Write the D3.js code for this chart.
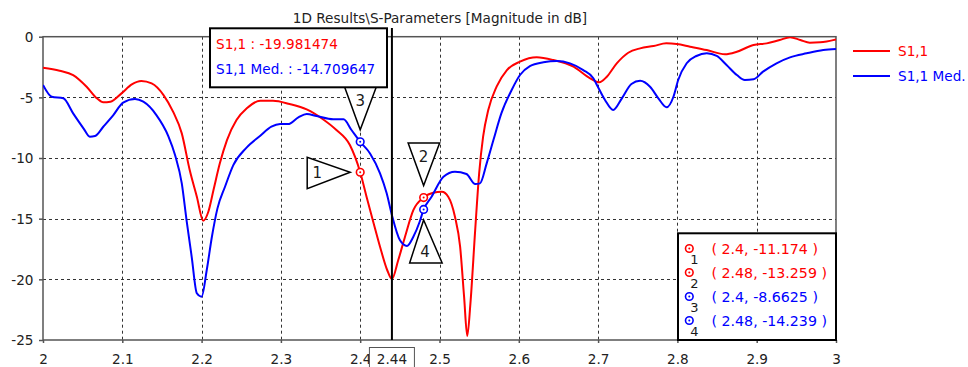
<!DOCTYPE html>
<html>
<head>
<meta charset="utf-8">
<script src="https://cdn.jsdelivr.net/npm/d3@7"></script>
<style>
  html, body { margin: 0; padding: 0; background: #fff; }
  svg { display: block; font-family: "DejaVu Sans", sans-serif; }
</style>
</head>
<body>
<svg id="chart" width="968" height="367"></svg>
<script>
// S1,1 (red) — frequency in GHz, magnitude in dB
const s11Freq = [2.000,2.021,2.038,2.055,2.068,2.076,2.085,2.099,2.112,2.124,2.137,2.152,2.164,2.175,2.185,2.194,2.202,2.2085,2.215,2.223,2.232,2.244,2.257,2.274,2.290,2.311,2.3325,2.353,2.370,2.387,2.400,2.408,2.417,2.425,2.434,2.440,2.448,2.4565,2.467,2.480,2.492,2.503,2.511,2.5195,2.526,2.531,2.535,2.539,2.545,2.550,2.555,2.5615,2.572,2.585,2.6015,2.6226,2.6435,2.669,2.690,2.7015,2.711,2.7235,2.738,2.753,2.770,2.786,2.799,2.816,2.837,2.860,2.875,2.896,2.9126,2.929,2.942,2.955,2.967,2.980,3.000];
const s11Val  = [-2.55,-2.80,-3.16,-4.12,-5.08,-5.41,-5.36,-4.67,-3.93,-3.65,-3.85,-4.81,-6.18,-7.97,-10.99,-13.19,-15.17,-14.43,-12.64,-10.44,-8.52,-6.87,-5.90,-5.28,-5.28,-5.55,-5.99,-6.80,-7.69,-8.93,-11.174,-13.19,-15.39,-17.31,-19.23,-19.981474,-18.41,-16.49,-14.29,-13.259,-12.86,-12.78,-13.19,-14.84,-17.31,-21.43,-24.67,-21.98,-15.94,-11.26,-8.24,-6.04,-4.12,-2.75,-2.06,-1.70,-1.92,-2.47,-3.43,-3.76,-3.30,-2.20,-1.32,-0.96,-0.77,-0.55,-0.60,-0.82,-1.10,-1.45,-1.24,-0.68,-0.55,-0.27,-0.05,-0.27,-0.49,-0.46,-0.22];

// S1,1 Med. (blue)
const medFreq = [2.000,2.011,2.0256,2.038,2.051,2.059,2.0656,2.076,2.0887,2.101,2.116,2.1265,2.143,2.158,2.1665,2.175,2.181,2.1875,2.194,2.200,2.2065,2.213,2.220,2.2295,2.240,2.257,2.274,2.288,2.299,2.309,2.322,2.3325,2.345,2.366,2.379,2.389,2.400,2.4124,2.425,2.4334,2.440,2.450,2.459,2.467,2.475,2.480,2.490,2.505,2.5195,2.534,2.545,2.551,2.5595,2.568,2.578,2.591,2.6015,2.614,2.631,2.648,2.6646,2.6813,2.694,2.6985,2.7087,2.719,2.730,2.742,2.753,2.7655,2.776,2.7865,2.795,2.801,2.8117,2.824,2.837,2.8496,2.862,2.875,2.885,2.896,2.908,2.925,2.942,2.963,2.984,3.000];
const medVal  = [-3.98,-4.95,-5.08,-6.32,-7.55,-8.24,-8.19,-7.42,-6.46,-5.44,-5.14,-5.36,-6.46,-8.19,-9.75,-12.09,-15.11,-18.14,-21.15,-21.43,-19.23,-16.49,-14.15,-12.37,-10.58,-9.12,-8.16,-7.42,-7.20,-7.20,-6.65,-6.37,-6.54,-6.81,-6.81,-7.69,-8.6625,-9.62,-11.26,-12.91,-14.709647,-16.76,-17.25,-16.49,-15.25,-14.239,-13.19,-11.54,-11.13,-11.32,-12.14,-12.09,-10.44,-8.52,-6.32,-4.39,-3.16,-2.42,-2.11,-2.00,-2.20,-2.75,-3.43,-3.98,-5.22,-6.04,-5.08,-3.90,-3.63,-4.12,-5.08,-5.82,-4.95,-3.57,-2.19,-1.59,-1.37,-1.59,-2.33,-3.16,-3.57,-3.51,-2.88,-2.19,-1.70,-1.37,-1.10,-1.01];

const seriesNames  = ["S1,1", "S1,1 Med."];
const seriesColors = ["#ff0000", "#0000ff"];

const xTicks = [2, 2.1, 2.2, 2.3, 2.4, 2.5, 2.6, 2.7, 2.8, 2.9, 3];
const yTicks = [0, -5, -10, -15, -20, -25];

// Markers: number, series index, frequency, value
const markerIds    = [1, 2, 3, 4];
const markerSeries = [0, 0, 1, 1];
const markerFreq   = [2.4, 2.48, 2.4, 2.48];
const markerVal    = [-11.174, -13.259, -8.6625, -14.239];
const markerText   = ["( 2.4, -11.174 )", "( 2.48, -13.259 )", "( 2.4, -8.6625 )", "( 2.48, -14.239 )"];

// Cursor readout
const cursorFreq = 2.44;
const cursorVals = [-19.981474, -14.709647];

const titleText = "1D Results\\S-Parameters [Magnitude in dB]";

// plain ASCII hyphen for negative numbers
const fmtLocale = d3.formatLocale({ decimal: ".", thousands: ",", grouping: [3], currency: ["", ""], minus: "-" });
const fmtTick = fmtLocale.format("~g");
const fmtRead = fmtLocale.format(".6f");

const svg = d3.select("#chart");
const L = 43, R = 836, T = 36.7, B = 340;
const x = d3.scaleLinear().domain([2, 3]).range([L, R]);
const y = d3.scaleLinear().domain([-25, 0]).range([B, T]);

svg.append("defs").append("clipPath").attr("id", "plotClip")
  .append("rect").attr("x", L).attr("y", T).attr("width", R - L).attr("height", B - T);

// title
svg.append("text").attr("x", 440).attr("y", 22.5).attr("text-anchor", "middle")
  .attr("font-size", 13.6).attr("fill", "#222").text(titleText);

// grid
const grid = svg.append("g").attr("stroke", "#333").attr("stroke-width", 1).attr("stroke-dasharray", "3,3");
grid.selectAll("line.v").data(xTicks.slice(1, -1)).join("line")
  .attr("x1", d => Math.round(x(d)) + 0.5).attr("x2", d => Math.round(x(d)) + 0.5)
  .attr("y1", T).attr("y2", B);
grid.selectAll("line.h").data(yTicks.slice(1, -1)).join("line")
  .attr("y1", d => Math.round(y(d)) + 0.5).attr("y2", d => Math.round(y(d)) + 0.5)
  .attr("x1", L).attr("x2", R);

// axes
const xAxis = d3.axisBottom(x).tickValues(xTicks).tickSize(3).tickFormat(fmtTick);
const yAxis = d3.axisLeft(y).tickValues(yTicks).tickSize(4).tickFormat(fmtTick);
const gx = svg.append("g").attr("transform", `translate(0,${B})`).call(xAxis);
const gy = svg.append("g").attr("transform", `translate(${L},0)`).call(yAxis);
[gx, gy].forEach(g => {
  g.select(".domain").remove();
  g.selectAll(".tick line").attr("stroke", "#555").attr("stroke-width", 1.5);
  g.selectAll(".tick text").attr("font-size", 13.6).attr("fill", "#222").attr("font-family", "DejaVu Sans");
});
gx.selectAll(".tick text").attr("dy", null).attr("y", 24);
gy.selectAll(".tick text").attr("x", -9.5).attr("dy", "0.36em");

// frame
svg.append("rect").attr("x", L).attr("y", T).attr("width", R - L).attr("height", B - T)
  .attr("fill", "none").attr("stroke", "#555").attr("stroke-width", 1.5);

// curves
const line = d3.line().curve(d3.curveMonotoneX).x(d => x(d[0])).y(d => y(d[1]));
const curves = [d3.zip(s11Freq, s11Val), d3.zip(medFreq, medVal)];
svg.append("g").attr("clip-path", "url(#plotClip)")
  .selectAll("path").data(curves).join("path")
  .attr("d", line).attr("fill", "none")
  .attr("stroke", (d, i) => seriesColors[i]).attr("stroke-width", 2)
  .attr("stroke-linejoin", "round");

// cursor line at 2.44
const cx = x(cursorFreq);
svg.append("line").attr("x1", cx).attr("x2", cx).attr("y1", 28).attr("y2", B)
  .attr("stroke", "#000").attr("stroke-width", 2);

// marker flags (triangles with numbers)
const flags = svg.append("g");
function flag(i, dir) {
  const px = x(markerFreq[i]), py = y(markerVal[i]);
  let pts, lx, ly;
  if (dir === "right") {
    const tipX = px - 10;
    pts = [[tipX - 43, py - 15], [tipX - 43, py + 16.5], [tipX, py]];
    lx = tipX - 33; ly = py + 1;
  } else if (dir === "down") {
    const tipY = py - 12;
    pts = [[px - 15.5, tipY - 42.5], [px + 16, tipY - 42.5], [px, tipY]];
    lx = px; ly = tipY - 29;
  } else {
    const tipY = py + 10.5;
    pts = [[px, tipY], [px + 18.5, tipY + 43], [px - 14, tipY + 43]];
    lx = px + 1.5; ly = tipY + 32;
  }
  flags.append("polygon").attr("points", pts.map(p => p.join(",")).join(" "))
    .attr("fill", "#fff").attr("stroke", "#000").attr("stroke-width", 1.5);
  flags.append("text").attr("x", lx).attr("y", ly).attr("text-anchor", "middle")
    .attr("dominant-baseline", "central").attr("font-size", 15).attr("fill", "#1a1a1a")
    .text(markerIds[i]);
}
flag(0, "right");
flag(1, "down");
flag(2, "down");
flag(3, "up");

// marker circles
function markerSymbol(g, px, py, color) {
  g.append("circle").attr("cx", px).attr("cy", py).attr("r", 3.8)
    .attr("fill", "#fff").attr("stroke", color).attr("stroke-width", 1.6);
  g.append("circle").attr("cx", px).attr("cy", py).attr("r", 1).attr("fill", color);
}
const marks = svg.append("g");
markerIds.forEach((id, i) => {
  markerSymbol(marks, x(markerFreq[i]), y(markerVal[i]), seriesColors[markerSeries[i]]);
});

// cursor readout box
const tip = svg.append("g");
tip.append("rect").attr("x", 210).attr("y", 28.3).attr("width", 177).attr("height", 59)
  .attr("fill", "#fff").attr("stroke", "#000").attr("stroke-width", 2);
cursorVals.forEach((v, i) => {
  tip.append("text").attr("x", 216).attr("y", 49 + i * 24.5)
    .attr("font-size", 13.6).attr("fill", seriesColors[i])
    .text(`${seriesNames[i]} : ${fmtRead(v)}`);
});

// cursor frequency tag on the x axis
const tag = svg.append("g");
tag.append("rect").attr("x", cx - 22.5).attr("y", 347.5).attr("width", 45).attr("height", 25)
  .attr("fill", "#fff").attr("stroke", "#555").attr("stroke-width", 1);
tag.append("text").attr("x", cx).attr("y", 364).attr("text-anchor", "middle")
  .attr("font-size", 13.6).attr("fill", "#222").text(fmtTick(cursorFreq));

// marker table
const tbl = svg.append("g");
tbl.append("rect").attr("x", 678).attr("y", 233.3).attr("width", R - 678).attr("height", B - 233.3)
  .attr("fill", "#fff").attr("stroke", "#000").attr("stroke-width", 2);
markerIds.forEach((id, i) => {
  const ry = 248.5 + i * 24;
  const col = seriesColors[markerSeries[i]];
  markerSymbol(tbl, 689.3, ry, col);
  tbl.append("text").attr("x", 694.5).attr("y", ry + 11).attr("text-anchor", "middle")
    .attr("dominant-baseline", "central").attr("font-size", 13).attr("fill", "#1a1a1a").text(id);
  tbl.append("text").attr("x", 711.5).attr("y", ry).attr("dominant-baseline", "central")
    .attr("font-size", 14.2).attr("fill", col).text(markerText[i]);
});

// legend
const leg = svg.append("g");
seriesNames.forEach((n, i) => {
  const ly = 51 + i * 25;
  leg.append("line").attr("x1", 853).attr("x2", 890).attr("y1", ly).attr("y2", ly)
    .attr("stroke", seriesColors[i]).attr("stroke-width", 2);
  leg.append("text").attr("x", 898).attr("y", ly).attr("dominant-baseline", "central")
    .attr("font-size", 13.6).attr("fill", seriesColors[i]).text(n);
});
</script>
</body>
</html>
